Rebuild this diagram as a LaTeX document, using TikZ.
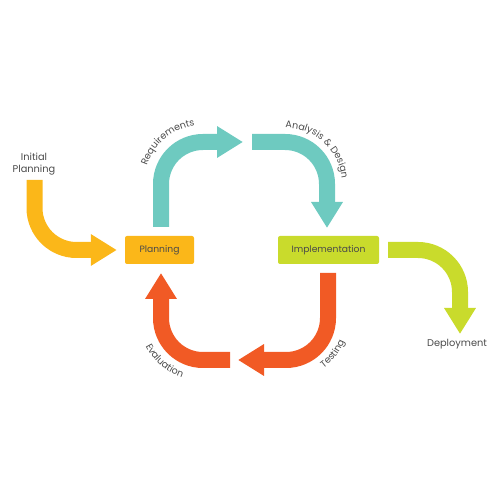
\documentclass[tikz,border=0pt]{standalone}
\usepackage{fontspec}
\setmainfont{Poppins}
\usepackage{tikz}
\usetikzlibrary{arrows.meta}
\usetikzlibrary{decorations,decorations.text}
\usepackage{xcolor}
\definecolor{cyellow}{HTML}{FBB719}
\definecolor{cteal}{HTML}{6ECAC0}
\definecolor{clime}{HTML}{C9DB2C}
\definecolor{corange}{HTML}{F15A25}
\definecolor{ctext}{HTML}{4A4A4A}
\newcommand{\lblfont}{\fontsize{9.5}{11}\selectfont\color{ctext}}
\tikzstyle{flow}=[line width=16pt, rounded corners=42pt, -{Triangle[width=30pt,length=26pt]}]
\tikzstyle{box}=[rounded corners=2pt, minimum height=28pt, inner sep=0pt, text=ctext, font=\fontsize{9.2}{11}\selectfont]
\tikzstyle{lbl}=[text=ctext, inner sep=0pt, font=\fontsize{9.8}{11.5}\selectfont]
\tikzstyle{arclbl}=[decorate, decoration={text along path, text align=center}]

\begin{document}
\begin{tikzpicture}[x=1pt,y=1pt]
\useasboundingbox (0,0) rectangle (500,500);

\node[box, fill=cyellow, minimum width=69pt] (plan) at (159.5,250) {Planning};
\node[box, fill=clime, minimum width=101pt] (impl) at (328.5,250) {Implementation};
\node[lbl, align=center] (init) at (34,336) {Initial\\Planning};
\node[lbl] (deploy) at (457,156) {Deployment};

\coordinate (y0) at (34.5,320);
\coordinate (r0) at (161,273);
\coordinate (r1) at (243,358);
\coordinate (a0) at (252,358);
\coordinate (a1) at (327,272);
\coordinate (d0) at (388,250);
\coordinate (d1) at (460,166);
\coordinate (t0) at (328,227);
\coordinate (t1) at (238,140);
\coordinate (e0) at (230,140);
\coordinate (e1) at (161,227);

\draw[flow, cyellow] (y0) |- ([xshift=-8pt]plan.west);
\draw[flow, cteal] (r0) |- (r1);
\draw[flow, cteal] (a0) -| (a1);
\draw[flow, clime] (d0) -| (d1);
\draw[flow, corange] (t0) |- (t1);
\draw[flow, corange] (e0) -| (e1);

\path[arclbl, decoration={text={|\lblfont|Requirements}}]
	(203,316) ++(190:59) arc[start angle=190, end angle=70, radius=59];
\path[arclbl, decoration={text={|\lblfont|Analysis {\&} Design}}]
	(286,316) ++(108:56) arc[start angle=108, end angle=-12, radius=56];
\path[arclbl, decoration={text={|\lblfont|Evaluation}}]
	(202,182) ++(169:63) arc[start angle=169, end angle=289, radius=63];
\path[arclbl, decoration={text={|\lblfont|Testing}}]
	(287,182) ++(262:62) arc[start angle=262, end angle=382, radius=62];
\end{tikzpicture}
\end{document}
